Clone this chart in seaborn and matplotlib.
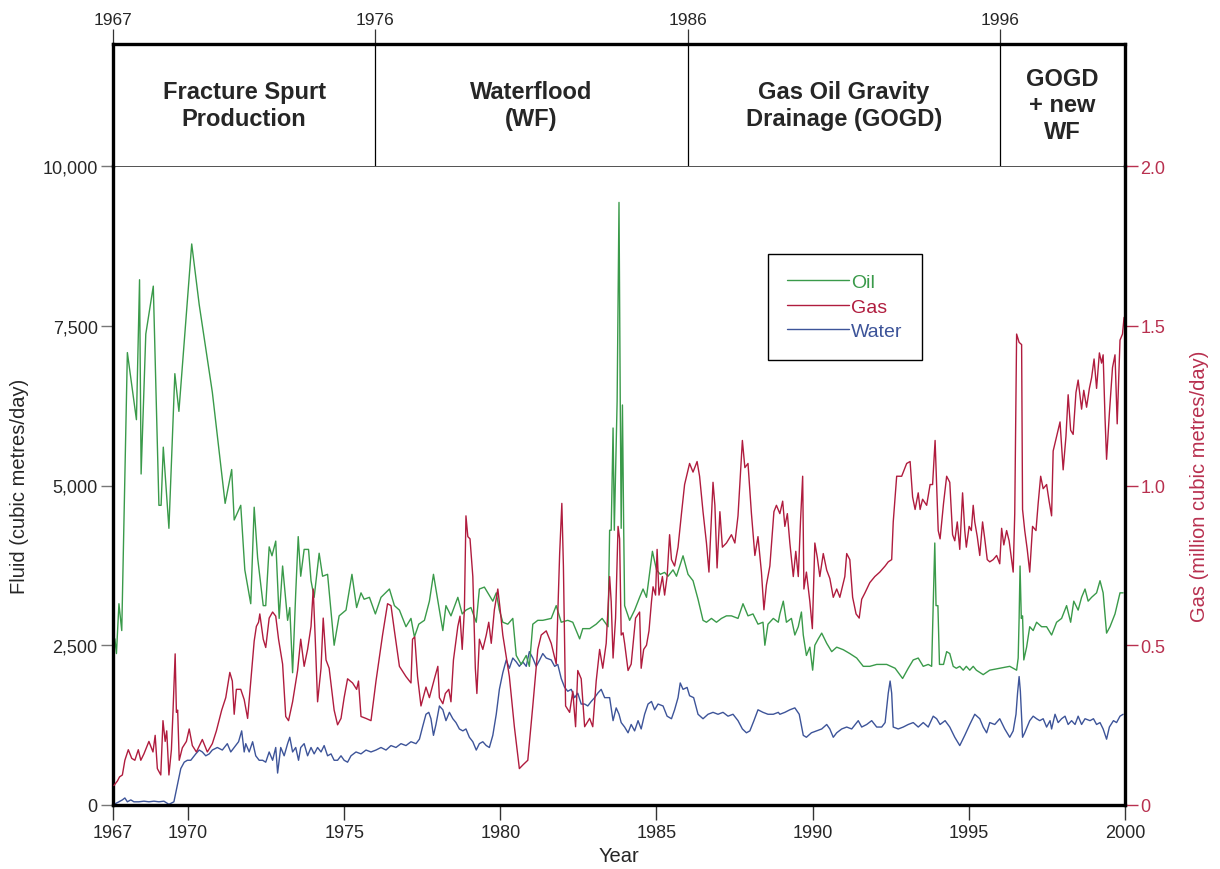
import numpy as np
import pandas as pd
import matplotlib
matplotlib.use("Agg")
import matplotlib.pyplot as plt
import seaborn as sns

# Oil rate (cubic metres/day)
oil_year = (
    [1967.66, 1967.71, 1967.79, 1967.88, 1968.06, 1968.35, 1968.45, 1968.50, 1968.65, 1968.89,
     1969.07, 1969.14, 1969.21, 1969.39, 1969.58, 1969.71, 1970.12, 1970.36, 1970.78, 1971.19,
     1971.40, 1971.48, 1971.69, 1971.82, 1972.01, 1972.12, 1972.23, 1972.41, 1972.49]
    + [1972.60, 1972.69, 1972.81, 1972.92, 1973.03, 1973.19, 1973.26, 1973.35, 1973.45, 1973.53,
       1973.61, 1973.72, 1973.86, 1973.94, 1974.04, 1974.20, 1974.31, 1974.47, 1974.68, 1974.84,
       1975.06, 1975.25, 1975.40, 1975.54, 1975.64, 1975.81, 1976.00, 1976.18, 1976.45, 1976.61,
       1976.77, 1976.98, 1977.14, 1977.25, 1977.39, 1977.57, 1977.73, 1977.86, 1978.00]
    + [1978.05, 1978.16, 1978.26, 1978.42, 1978.64, 1978.78, 1978.90, 1979.06, 1979.23, 1979.33,
       1979.49, 1979.65, 1979.76, 1979.87, 1979.97, 1980.08, 1980.24, 1980.40, 1980.51, 1980.67,
       1980.83, 1980.93, 1981.04, 1981.20, 1981.36, 1981.63, 1981.79, 1981.95, 1982.16, 1982.32,
       1982.54, 1982.64, 1982.86, 1983.07, 1983.26, 1983.45]
    + [1983.50, 1983.55, 1983.61, 1983.65, 1983.74, 1983.80, 1983.84, 1983.87, 1983.91, 1983.95,
       1983.98, 1984.14, 1984.30, 1984.46, 1984.57, 1984.68, 1984.87, 1985.00, 1985.12, 1985.26,
       1985.37, 1985.53, 1985.64, 1985.85, 1986.01, 1986.17, 1986.33, 1986.49, 1986.60, 1986.76,
       1986.92, 1987.08, 1987.24, 1987.40, 1987.61, 1987.77, 1987.93, 1988.09, 1988.25, 1988.41,
       1988.47, 1988.57, 1988.74, 1988.90]
    + [1988.95, 1989.06, 1989.16, 1989.32, 1989.43, 1989.54, 1989.64, 1989.70, 1989.80, 1989.91,
       1990.00, 1990.07, 1990.18, 1990.29, 1990.45, 1990.61, 1990.77, 1990.98, 1991.19, 1991.41,
       1991.62, 1991.83, 1992.05, 1992.37, 1992.64, 1992.88, 1993.06, 1993.22, 1993.38, 1993.54,
       1993.70, 1993.81, 1993.86, 1993.91, 1993.95, 1994.01, 1994.06, 1994.19, 1994.29]
    + [1994.39, 1994.50, 1994.60, 1994.71, 1994.82, 1994.92, 1995.03, 1995.14, 1995.24, 1995.46,
       1995.67, 1995.99, 1996.31, 1996.53, 1996.58, 1996.61, 1996.64, 1996.68, 1996.72, 1996.76,
       1996.85, 1996.95, 1997.06, 1997.17, 1997.33, 1997.49, 1997.65, 1997.81, 1997.97, 1998.13,
       1998.26, 1998.36, 1998.50, 1998.61, 1998.72, 1998.82, 1998.93, 1999.09, 1999.20, 1999.30,
       1999.41, 1999.52, 1999.68, 1999.84, 1999.94]
)
oil_rate = (
    [2600, 2370, 3150, 2730, 7080, 6030, 8220, 5180, 7370, 8120,
     4690, 4690, 5600, 4330, 6750, 6160, 8780, 7830, 6460, 4720,
     5250, 4460, 4690, 3680, 3150, 4660, 3870, 3120, 3120]
    + [4040, 3900, 4130, 2920, 3740, 2890, 3090, 2070, 3320, 4200,
       3580, 4000, 4000, 3510, 3250, 3940, 3580, 3610, 2500, 2960,
       3050, 3610, 3090, 3320, 3220, 3250, 2990, 3250, 3380, 3120,
       3050, 2790, 2920, 2630, 2830, 2890, 3190, 3610, 3190]
    + [3050, 2730, 3120, 2960, 3250, 2990, 3050, 3090, 2860, 3380,
       3410, 3280, 3190, 3320, 3050, 2860, 2830, 2920, 2340, 2200,
       2340, 2170, 2830, 2890, 2890, 2920, 3120, 2860, 2890, 2860,
       2600, 2760, 2760, 2830, 2920, 2790]
    + [4300, 4300, 5900, 4300, 6320, 9430, 6320, 4330, 6260, 4330,
       3120, 2890, 3050, 3250, 3380, 3250, 3970, 3680, 3610, 3640,
       3580, 3680, 3580, 3900, 3610, 3510, 3220, 2890, 2860, 2920,
       2860, 2920, 2960, 2960, 2920, 3150, 2960, 2990, 2830, 2860,
       2500, 2830, 2920, 2860]
    + [2990, 3190, 2860, 2920, 2660, 2790, 3020, 2660, 2340, 2470,
       2110, 2500, 2600, 2690, 2530, 2400, 2470, 2430, 2370, 2300,
       2170, 2170, 2200, 2200, 2140, 1980, 2140, 2270, 2300, 2170,
       2200, 2170, 3120, 4100, 3120, 3120, 2200, 2200, 2400]
    + [2370, 2170, 2140, 2170, 2110, 2170, 2110, 2170, 2110, 2040,
       2110, 2140, 2170, 2110, 2300, 2920, 3740, 2920, 2960, 2270,
       2470, 2790, 2730, 2860, 2790, 2790, 2660, 2860, 2920, 3120,
       2860, 3190, 3050, 3250, 3380, 3190, 3250, 3320, 3510, 3320,
       2690, 2790, 2990, 3320, 3320]
)

# Gas rate (million cubic metres/day)
gas_year = (
    [1967.63, 1967.74, 1967.81, 1967.90, 1967.98, 1968.09, 1968.20, 1968.30, 1968.41, 1968.49,
     1968.59, 1968.75, 1968.88, 1968.95, 1969.02, 1969.13, 1969.20, 1969.27, 1969.32, 1969.39,
     1969.47, 1969.52, 1969.59, 1969.63, 1969.67, 1969.72, 1969.82, 1969.95, 1970.04, 1970.14,
     1970.27, 1970.46, 1970.62, 1970.78, 1970.91, 1971.08, 1971.21, 1971.34, 1971.42, 1971.48,
     1971.55, 1971.69, 1971.80, 1971.91, 1972.01, 1972.12, 1972.19, 1972.26, 1972.30, 1972.41,
     1972.49]
    + [1972.60, 1972.71, 1972.81, 1972.90, 1973.03, 1973.13, 1973.22, 1973.35, 1973.51, 1973.61,
       1973.72, 1973.83, 1973.94, 1974.01, 1974.07, 1974.15, 1974.26, 1974.33, 1974.42, 1974.52,
       1974.68, 1974.79, 1974.90, 1975.00, 1975.11, 1975.27, 1975.40, 1975.46, 1975.54, 1975.70,
       1975.86, 1976.02, 1976.23, 1976.39, 1976.50, 1976.61, 1976.77, 1976.98, 1977.14, 1977.19,
       1977.26, 1977.35, 1977.46, 1977.62, 1977.73, 1977.89, 1978.00]
    + [1978.05, 1978.16, 1978.24, 1978.35, 1978.42, 1978.50, 1978.64, 1978.71, 1978.78, 1978.85,
       1978.90, 1978.96, 1979.03, 1979.12, 1979.20, 1979.25, 1979.33, 1979.44, 1979.55, 1979.63,
       1979.71, 1979.81, 1979.92, 1979.99, 1980.08, 1980.29, 1980.45, 1980.61, 1980.74, 1980.88,
       1981.04, 1981.20, 1981.31, 1981.47, 1981.63, 1981.79, 1981.90, 1981.97, 1982.02, 1982.09,
       1982.22, 1982.32, 1982.41, 1982.48, 1982.59, 1982.70, 1982.86, 1982.96, 1983.07, 1983.18,
       1983.28, 1983.39]
    + [1983.50, 1983.55, 1983.61, 1983.69, 1983.77, 1983.82, 1983.87, 1983.93, 1983.98, 1984.09,
       1984.19, 1984.33, 1984.46, 1984.51, 1984.59, 1984.68, 1984.76, 1984.84, 1984.89, 1984.97,
       1985.02, 1985.08, 1985.19, 1985.26, 1985.34, 1985.42, 1985.48, 1985.58, 1985.69, 1985.80,
       1985.90, 1986.06, 1986.17, 1986.30, 1986.38, 1986.49, 1986.60, 1986.68, 1986.81, 1986.87,
       1986.94, 1987.03, 1987.11, 1987.24, 1987.40, 1987.51, 1987.61, 1987.75, 1987.83, 1987.93,
       1988.04, 1988.15, 1988.25, 1988.36, 1988.44, 1988.52, 1988.63, 1988.76, 1988.84]
    + [1988.95, 1989.04, 1989.11, 1989.19, 1989.27, 1989.38, 1989.46, 1989.54, 1989.61, 1989.68,
       1989.72, 1989.80, 1989.91, 1989.99, 1990.07, 1990.15, 1990.23, 1990.34, 1990.45, 1990.55,
       1990.66, 1990.77, 1990.87, 1991.03, 1991.09, 1991.19, 1991.28, 1991.39, 1991.49, 1991.57,
       1991.67, 1991.83, 1991.99, 1992.15, 1992.32, 1992.42, 1992.53, 1992.58, 1992.69, 1992.85,
       1993.01, 1993.12, 1993.20, 1993.28, 1993.38, 1993.44, 1993.52, 1993.65, 1993.76, 1993.84,
       1993.92, 1993.97, 1994.02, 1994.08, 1994.19, 1994.29]
    + [1994.39, 1994.48, 1994.55, 1994.63, 1994.71, 1994.80, 1994.87, 1994.92, 1995.01, 1995.08,
       1995.14, 1995.19, 1995.27, 1995.35, 1995.44, 1995.51, 1995.59, 1995.67, 1995.78, 1995.89,
       1995.99, 1996.05, 1996.12, 1996.21, 1996.29, 1996.37, 1996.42, 1996.47, 1996.53, 1996.61,
       1996.69, 1996.72, 1996.79, 1996.87, 1996.95, 1997.04, 1997.15, 1997.22, 1997.30, 1997.38,
       1997.49, 1997.57, 1997.65, 1997.70, 1997.81, 1997.92, 1998.02, 1998.11, 1998.18, 1998.26,
       1998.34, 1998.43, 1998.50, 1998.61, 1998.68, 1998.77, 1998.86, 1998.93, 1999.01, 1999.09,
       1999.18, 1999.25, 1999.30, 1999.36, 1999.41, 1999.50, 1999.60, 1999.68, 1999.75, 1999.84,
       1999.92, 1999.97]
)
gas_rate = (
    [0.061, 0.075, 0.088, 0.094, 0.140, 0.173, 0.146, 0.140, 0.173, 0.140,
     0.160, 0.199, 0.166, 0.218, 0.114, 0.094, 0.264, 0.199, 0.232, 0.094,
     0.173, 0.290, 0.473, 0.290, 0.297, 0.140, 0.179, 0.199, 0.238, 0.186,
     0.166, 0.205, 0.166, 0.192, 0.232, 0.297, 0.336, 0.415, 0.388, 0.284,
     0.362, 0.362, 0.330, 0.271, 0.388, 0.513, 0.559, 0.572, 0.598, 0.519,
     0.493]
    + [0.585, 0.604, 0.591, 0.519, 0.441, 0.277, 0.264, 0.323, 0.421, 0.519,
       0.434, 0.487, 0.559, 0.676, 0.532, 0.323, 0.428, 0.585, 0.454, 0.428,
       0.297, 0.251, 0.271, 0.336, 0.395, 0.382, 0.362, 0.388, 0.277, 0.271,
       0.264, 0.388, 0.532, 0.630, 0.624, 0.545, 0.434, 0.402, 0.382, 0.519,
       0.526, 0.402, 0.310, 0.369, 0.336, 0.395, 0.434]
    + [0.336, 0.317, 0.349, 0.362, 0.323, 0.454, 0.559, 0.591, 0.487, 0.611,
       0.905, 0.840, 0.833, 0.715, 0.428, 0.349, 0.519, 0.487, 0.532, 0.572,
       0.506, 0.611, 0.676, 0.617, 0.532, 0.402, 0.245, 0.114, 0.127, 0.140,
       0.310, 0.487, 0.532, 0.545, 0.506, 0.441, 0.787, 0.944, 0.748, 0.310,
       0.290, 0.356, 0.245, 0.421, 0.395, 0.245, 0.271, 0.245, 0.388, 0.487,
       0.428, 0.506]
    + [0.715, 0.637, 0.460, 0.585, 0.872, 0.833, 0.532, 0.539, 0.506, 0.421,
       0.441, 0.585, 0.604, 0.428, 0.487, 0.500, 0.545, 0.637, 0.683, 0.657,
       0.800, 0.657, 0.715, 0.657, 0.715, 0.846, 0.768, 0.748, 0.807, 0.912,
       1.003, 1.069, 1.042, 1.075, 1.029, 0.918, 0.820, 0.729, 1.010, 0.938,
       0.742, 0.918, 0.807, 0.820, 0.846, 0.820, 0.905, 1.141, 1.056, 1.069,
       0.912, 0.781, 0.840, 0.729, 0.611, 0.689, 0.748, 0.918, 0.938]
    + [0.912, 0.951, 0.872, 0.912, 0.820, 0.715, 0.794, 0.715, 0.886, 1.029,
       0.676, 0.729, 0.637, 0.552, 0.820, 0.774, 0.715, 0.787, 0.735, 0.709,
       0.650, 0.676, 0.650, 0.715, 0.787, 0.768, 0.650, 0.598, 0.585, 0.644,
       0.663, 0.696, 0.715, 0.729, 0.748, 0.761, 0.768, 0.886, 1.029, 1.029,
       1.069, 1.075, 0.964, 0.925, 0.977, 0.925, 0.957, 0.938, 1.003, 1.003,
       1.141, 1.003, 0.859, 0.833, 0.944, 1.029]
    + [1.010, 0.846, 0.827, 0.886, 0.800, 0.977, 0.859, 0.807, 0.872, 0.859,
       0.938, 0.886, 0.840, 0.781, 0.886, 0.833, 0.768, 0.761, 0.768, 0.781,
       0.755, 0.866, 0.814, 0.859, 0.827, 0.768, 0.729, 0.912, 1.474, 1.448,
       1.441, 0.925, 0.859, 0.800, 0.729, 0.872, 0.859, 0.944, 1.029, 0.990,
       1.003, 0.951, 0.905, 1.108, 1.154, 1.199, 1.049, 1.154, 1.284, 1.173,
       1.160, 1.291, 1.330, 1.239, 1.298, 1.245, 1.304, 1.337, 1.396, 1.304,
       1.415, 1.383, 1.409, 1.213, 1.082, 1.226, 1.369, 1.409, 1.193, 1.455,
       1.474, 1.526]
)

# Water rate (cubic metres/day)
water_year = (
    [1967.63, 1967.79, 1967.90, 1967.98, 1968.06, 1968.17, 1968.27, 1968.43, 1968.59, 1968.75,
     1968.91, 1969.07, 1969.23, 1969.39, 1969.55, 1969.66, 1969.77, 1969.88, 1969.98, 1970.09,
     1970.25, 1970.36, 1970.46, 1970.57, 1970.68, 1970.78, 1970.94, 1971.10, 1971.26, 1971.37,
     1971.48, 1971.62, 1971.72, 1971.80, 1971.85, 1971.96, 1972.07, 1972.17, 1972.28, 1972.39,
     1972.49]
    + [1972.60, 1972.71, 1972.81, 1972.87, 1972.97, 1973.08, 1973.19, 1973.26, 1973.35, 1973.45,
       1973.54, 1973.61, 1973.72, 1973.83, 1973.94, 1974.04, 1974.15, 1974.26, 1974.36, 1974.47,
       1974.58, 1974.68, 1974.79, 1974.90, 1975.00, 1975.11, 1975.22, 1975.38, 1975.54, 1975.70,
       1975.86, 1976.02, 1976.18, 1976.34, 1976.50, 1976.66, 1976.82, 1976.98, 1977.14, 1977.30,
       1977.41, 1977.51, 1977.62, 1977.71, 1977.78, 1977.86, 1977.94]
    + [1978.05, 1978.16, 1978.26, 1978.37, 1978.48, 1978.58, 1978.69, 1978.80, 1978.90, 1979.01,
       1979.12, 1979.23, 1979.33, 1979.44, 1979.55, 1979.65, 1979.76, 1979.87, 1979.97, 1980.08,
       1980.19, 1980.29, 1980.40, 1980.51, 1980.61, 1980.72, 1980.83, 1980.93, 1981.04, 1981.15,
       1981.26, 1981.36, 1981.47, 1981.63, 1981.74, 1981.84, 1981.95, 1982.06, 1982.16, 1982.27,
       1982.38, 1982.48, 1982.59, 1982.70, 1982.80, 1982.91, 1983.02, 1983.12, 1983.23, 1983.34,
       1983.45]
    + [1983.50, 1983.61, 1983.71, 1983.80, 1983.87, 1983.98, 1984.09, 1984.19, 1984.30, 1984.41,
       1984.51, 1984.62, 1984.73, 1984.84, 1984.94, 1985.05, 1985.21, 1985.34, 1985.48, 1985.58,
       1985.69, 1985.76, 1985.85, 1985.98, 1986.06, 1986.19, 1986.33, 1986.49, 1986.65, 1986.81,
       1986.97, 1987.13, 1987.29, 1987.45, 1987.61, 1987.75, 1987.88, 1987.99, 1988.12, 1988.25,
       1988.41, 1988.57, 1988.74, 1988.90]
    + [1988.95, 1989.11, 1989.27, 1989.43, 1989.57, 1989.70, 1989.80, 1989.96, 1990.13, 1990.29,
       1990.45, 1990.55, 1990.66, 1990.77, 1990.93, 1991.09, 1991.25, 1991.46, 1991.57, 1991.73,
       1991.89, 1992.05, 1992.21, 1992.32, 1992.37, 1992.42, 1992.48, 1992.53, 1992.58, 1992.74,
       1992.90, 1993.06, 1993.22, 1993.38, 1993.54, 1993.70, 1993.86, 1993.97, 1994.08, 1994.24]
    + [1994.39, 1994.55, 1994.71, 1994.87, 1995.03, 1995.19, 1995.35, 1995.46, 1995.57, 1995.67,
       1995.83, 1995.99, 1996.15, 1996.31, 1996.42, 1996.51, 1996.56, 1996.61, 1996.65, 1996.72,
       1996.79, 1996.95, 1997.06, 1997.17, 1997.27, 1997.38, 1997.49, 1997.60, 1997.65, 1997.76,
       1997.86, 1997.97, 1998.08, 1998.18, 1998.29, 1998.40, 1998.50, 1998.61, 1998.72, 1998.88,
       1998.99, 1999.09, 1999.20, 1999.30, 1999.41, 1999.50, 1999.63, 1999.73, 1999.84, 1999.94]
)
water_rate = (
    [10, 50, 80, 110, 50, 80, 50, 50, 60, 50,
     60, 50, 60, 10, 50, 310, 570, 670, 700, 700,
     800, 860, 830, 770, 800, 860, 900, 860, 960, 830,
     900, 990, 1160, 830, 960, 830, 990, 770, 700, 700,
     670]
    + [830, 700, 900, 500, 900, 770, 960, 1060, 830, 900,
       700, 900, 960, 770, 900, 800, 900, 830, 930, 770,
       800, 700, 700, 770, 700, 670, 770, 830, 800, 860,
       830, 860, 900, 860, 930, 900, 960, 930, 990, 960,
       1030, 1220, 1420, 1450, 1350, 1090, 1260]
    + [1550, 1490, 1320, 1450, 1350, 1290, 1190, 1160, 1190, 1060,
       990, 860, 960, 990, 930, 900, 1090, 1420, 1810, 2070,
       2270, 2140, 2300, 2240, 2170, 2240, 2170, 2400, 2300, 2170,
       2270, 2370, 2300, 2270, 2170, 2200, 1980, 1840, 1780, 1810,
       1680, 1750, 1580, 1580, 1550, 1620, 1680, 1750, 1810, 1680,
       1680]
    + [1680, 1320, 1520, 1420, 1290, 1220, 1130, 1260, 1160, 1320,
       1190, 1420, 1580, 1620, 1490, 1580, 1550, 1390, 1350, 1490,
       1680, 1910, 1810, 1840, 1710, 1680, 1420, 1350, 1420, 1450,
       1420, 1450, 1390, 1420, 1320, 1190, 1130, 1160, 1320, 1490,
       1450, 1420, 1420, 1450]
    + [1420, 1450, 1490, 1520, 1420, 1090, 1060, 1130, 1160, 1190,
       1260, 1190, 1060, 1130, 1190, 1220, 1190, 1320, 1220, 1260,
       1320, 1220, 1220, 1290, 1520, 1750, 1940, 1750, 1220, 1190,
       1220, 1260, 1290, 1220, 1290, 1220, 1390, 1350, 1260, 1320]
    + [1220, 1060, 930, 1090, 1260, 1420, 1350, 1220, 1130, 1290,
       1260, 1350, 1190, 1060, 1160, 1420, 1750, 2010, 1780, 1060,
       1130, 1320, 1390, 1350, 1320, 1350, 1220, 1320, 1190, 1420,
       1290, 1350, 1390, 1260, 1320, 1260, 1390, 1260, 1350, 1320,
       1350, 1260, 1290, 1190, 1030, 1220, 1320, 1290, 1390, 1420]
)

# production phases shown in the band above the plot
phase_edges = [1967.6, 1976, 1986, 1996, 2000]
phase_names = ["Fracture Spurt\nProduction", "Waterflood\n(WF)",
               "Gas Oil Gravity\nDrainage (GOGD)", "GOGD\n+ new\nWF"]
top_ticks = [1967.6, 1976, 1986, 1996]
top_tick_labels = ["1967", "1976", "1986", "1996"]
year_ticks = [1967.6, 1970, 1975, 1980, 1985, 1990, 1995, 2000]
year_tick_labels = ["1967", "1970", "1975", "1980", "1985", "1990", "1995", "2000"]
fluid_ticks = [0, 2500, 5000, 7500, 10000]
gas_ticks = [0, 0.5, 1.0, 1.5, 2.0]
gas_tick_labels = ["0", "0.5", "1.0", "1.5", "2.0"]

OIL = "#3a9a4a"
GAS = "#b01c3e"
WATER = "#3d5499"
GAS_TXT = "#b8304f"

sns.set_style("ticks")
plt.rcParams["font.family"] = ["Liberation Sans", "DejaVu Sans"]

W, H = 1220, 870
fig = plt.figure(figsize=(12.2, 8.7), dpi=100)
left, right, bottom, top, band_top = 113, 1125, 806, 167, 45
ax = fig.add_axes([left / W, 1 - bottom / H, (right - left) / W, (bottom - top) / H])
ax_top = fig.add_axes([left / W, 1 - top / H, (right - left) / W, (top - band_top) / H])
ax_gas = ax.twinx()

oil_df = pd.DataFrame({"Year": oil_year, "Rate": oil_rate})
gas_df = pd.DataFrame({"Year": gas_year, "Rate": gas_rate})
water_df = pd.DataFrame({"Year": water_year, "Rate": water_rate})

sns.lineplot(data=water_df, x="Year", y="Rate", ax=ax, color=WATER, lw=1.0,
             estimator=None, sort=False, label="Water", legend=False)
line_water = ax.lines[-1]
sns.lineplot(data=oil_df, x="Year", y="Rate", ax=ax, color=OIL, lw=1.0,
             estimator=None, sort=False, label="Oil", legend=False)
line_oil = ax.lines[-1]
sns.lineplot(data=gas_df, x="Year", y="Rate", ax=ax_gas, color=GAS, lw=1.0,
             estimator=None, sort=False, label="Gas", legend=False)
line_gas = ax_gas.lines[-1]

xlim = (1967.6, 2000)
for a in (ax, ax_gas, ax_top):
    a.set_xlim(*xlim)
ax.set_ylim(0, 10000)
ax_gas.set_ylim(0, 2.0)

# left axis
ax.set_yticks(fluid_ticks)
ax.set_yticklabels([f"{v:,}" for v in fluid_ticks])
ax.set_xticks(year_ticks)
ax.set_xticklabels(year_tick_labels)
ax.tick_params(axis="y", direction="out", length=9, width=1.0, color="#777777",
               labelsize=13, pad=2)
ax.tick_params(axis="x", direction="out", length=11, width=1.0, color="#333333",
               labelsize=13, pad=3)
ax.set_xlabel("Year", fontsize=14.5)
ax.set_ylabel("Fluid (cubic metres/day)", fontsize=14.5)
ax.xaxis.label.set_va("center")
ax.yaxis.label.set_va("center")
ax.yaxis.set_label_coords(-0.092, 0.5)
ax.xaxis.set_label_coords(0.5, -0.079)

# right axis
ax_gas.set_yticks(gas_ticks)
ax_gas.set_yticklabels(gas_tick_labels)
ax_gas.tick_params(axis="y", direction="out", length=9, width=1.0, color=GAS_TXT,
                   labelcolor=GAS_TXT, labelsize=13, pad=2)
ax_gas.set_ylabel("Gas (million cubic metres/day)", fontsize=14.5, color=GAS_TXT)
ax_gas.yaxis.label.set_va("center")
ax_gas.yaxis.set_label_coords(1.074, 0.5)

for a in (ax, ax_gas):
    a.grid(False)
    for s in a.spines.values():
        s.set_visible(False)
ax.spines["left"].set_visible(True)
ax.spines["bottom"].set_visible(True)
ax.spines["top"].set_visible(True)
ax_gas.spines["right"].set_visible(True)
for s in ("left", "bottom"):
    ax.spines[s].set_linewidth(2.4)
    ax.spines[s].set_color("black")
ax_gas.spines["right"].set_linewidth(2.4)
ax_gas.spines["right"].set_color("black")
ax.spines["top"].set_linewidth(1.3)
ax.spines["top"].set_color("#444444")

# phase band on top
ax_top.set_ylim(0, 1)
ax_top.set_yticks([])
ax_top.xaxis.tick_top()
ax_top.set_xticks(top_ticks)
ax_top.set_xticklabels(top_tick_labels)
ax_top.tick_params(axis="x", direction="out", length=11, width=0.9, color="#333333",
                   labelsize=12.5, pad=1.5)
for s in ("top", "left", "right"):
    ax_top.spines[s].set_linewidth(2.4)
    ax_top.spines[s].set_color("black")
ax_top.spines["bottom"].set_visible(False)
for edge in phase_edges[1:-1]:
    ax_top.axvline(edge, color="black", lw=0.9)
for i, name in enumerate(phase_names):
    mid = (phase_edges[i] + phase_edges[i + 1]) / 2
    ax_top.text(mid, 0.5, name, ha="center", va="center", fontsize=17,
                fontweight="bold", linespacing=1.2)

# legend
leg = ax_gas.legend([line_oil, line_gas, line_water], ["Oil", "Gas", "Water"],
                    loc="upper left", bbox_to_anchor=(0.647, 0.862), fontsize=14,
                    handlelength=3.2, handletextpad=0.1, labelspacing=0.35,
                    borderpad=1.0, borderaxespad=0, fancybox=False, framealpha=1,
                    edgecolor="black")
leg.get_frame().set_linewidth(1.0)
for txt, col in zip(leg.get_texts(), [OIL, GAS, WATER]):
    txt.set_color(col)

fig.savefig("out.png", dpi=100)
